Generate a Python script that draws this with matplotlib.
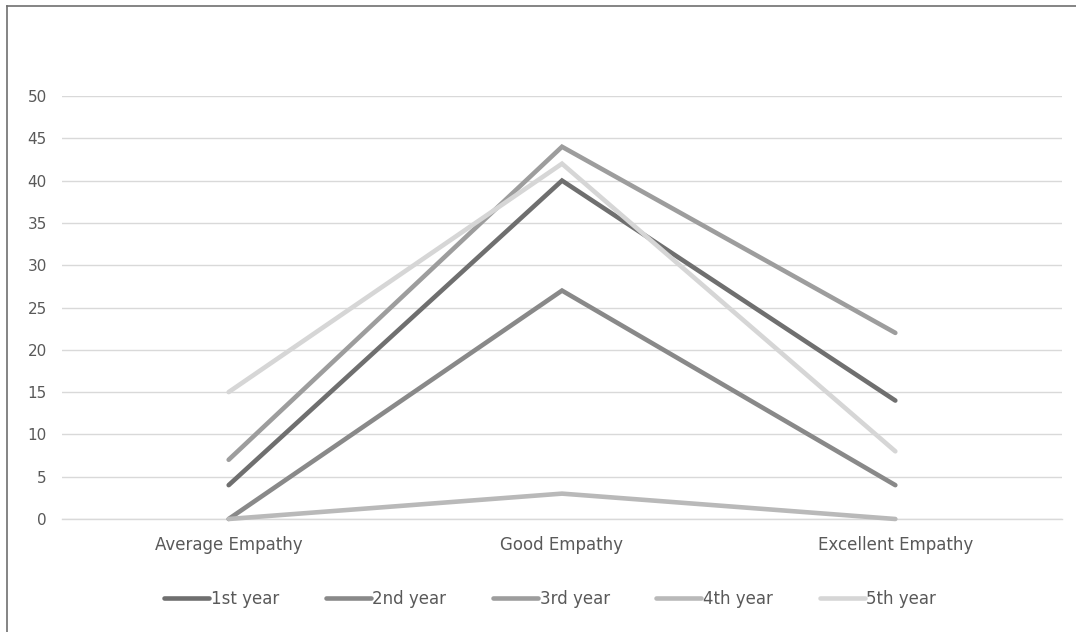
import matplotlib
matplotlib.use("Agg")
import matplotlib.pyplot as plt
from matplotlib.lines import Line2D

categories = ["Average Empathy", "Good Empathy", "Excellent Empathy"]
series_names = ["1st year", "2nd year", "3rd year", "4th year", "5th year"]
year1 = [4, 40, 14]
year2 = [0, 27, 4]
year3 = [7, 44, 22]
year4 = [0, 3, 0]
year5 = [15, 42, 8]
yticks = [0, 5, 10, 15, 20, 25, 30, 35, 40, 45, 50]

series = [year1, year2, year3, year4, year5]
colors = ["#6f6f6f", "#898989", "#9d9d9d", "#b9b9b9", "#d6d6d6"]

W, H = 1076, 632
fig = plt.figure(figsize=(W / 100, H / 100), dpi=100)
fig.patch.set_facecolor("white")

# axes: x from 62 to 1062 px, y0 at 519 px, y50 at 96 px
left, right = 62, 1062
y_bot, y_top = 519, 96
ax = fig.add_axes([left / W, 1 - y_bot / H, (right - left) / W, (y_bot - y_top) / H])
ax.set_xlim(-0.5, 2.5)
ax.set_ylim(0, 50)
ax.set_yticks(yticks)
ax.set_xticks(range(len(categories)))
ax.set_xticklabels(categories)
for s in ax.spines.values():
    s.set_visible(False)
ax.grid(axis="y", color="#d9d9d9", linewidth=1.0)
ax.set_axisbelow(True)
ax.axhline(0, color="#d9d9d9", linewidth=1.0, clip_on=False, zorder=0.5)
ax.tick_params(axis="y", length=0, labelsize=11, labelcolor="#595959", pad=11)
ax.tick_params(axis="x", length=0, labelsize=12, labelcolor="#595959", pad=12)

x = list(range(len(categories)))
for name, vals, c in zip(series_names, series, colors):
    ax.plot(x, vals, color=c, linewidth=3.3, solid_capstyle="round",
            solid_joinstyle="miter", label=name, clip_on=False)

handles = [Line2D([0], [0], color=c, linewidth=3.3, solid_capstyle="round")
           for c in colors]
leg = fig.legend(handles, series_names, loc="center", ncol=5,
                 bbox_to_anchor=(550 / W, 1 - 599 / H), frameon=False,
                 fontsize=12, handlelength=2.7, handletextpad=0.1,
                 columnspacing=2.8)
for t in leg.get_texts():
    t.set_color("#595959")

# figure border (left and top visible)
fig.add_artist(Line2D([6.5 / W, 6.5 / W], [0, 1 - 5.5 / H], color="#6f6f6f",
                      linewidth=1.2, transform=fig.transFigure))
fig.add_artist(Line2D([6.5 / W, 1], [1 - 5.5 / H, 1 - 5.5 / H], color="#6f6f6f",
                      linewidth=1.2, transform=fig.transFigure))

fig.savefig("out.png", dpi=100, facecolor="white")
